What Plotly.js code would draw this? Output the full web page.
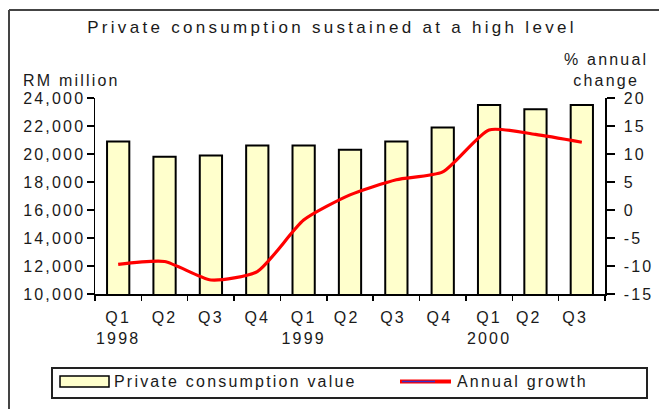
<!DOCTYPE html>
<html>
<head>
<meta charset="utf-8">
<script src="https://cdn.plot.ly/plotly-3.0.1.min.js"></script>
<style>
  html, body { margin: 0; padding: 0; background: #fff; }
  #chart { width: 659px; height: 409px; }
  svg text { letter-spacing: 2.2px; }
  svg .gtitle { letter-spacing: 3.3px; }
</style>
</head>
<body>
<div id="chart"></div>
<script>
// Data
const categories = ["Q1<br>1998", "Q2", "Q3", "Q4", "Q1<br>1999", "Q2 ", "Q3 ", "Q4 ", "Q1<br>2000", "Q2  ", "Q3  "];
const consumptionValue = [20900, 19800, 19900, 20600, 20600, 20300, 20900, 21900, 23500, 23200, 23500];
const annualGrowth = [-9.7, -9.2, -12.5, -11.0, -1.8, 2.7, 5.4, 6.8, 14.3, 13.5, 12.1];
const rightTickVals = [-15, -10, -5, 0, 5, 10, 15, 20];
const rightTickText = ["-15", "-10", "-5", "0", "5", "10", "15", "20"];

const FONT = "Liberation Sans, Arial, sans-serif";
const TXT = "#1a1a1a";

// Plot area in pixels: x 95..605, y 98..294
const L = 95, R = 605, T = 98, B = 294;
const px = v => (v - L) / (R - L);
const py = v => (B - v) / (B - T);

const traces = [
  {
    type: "bar",
    x: categories,
    y: consumptionValue,
    name: "Private consumption value",
    width: 0.48,
    marker: { color: "#FFFFCC", line: { color: "#000", width: 2 } },
    showlegend: false,
    hoverinfo: "skip"
  },
  {
    type: "scatter",
    mode: "lines",
    x: categories,
    y: annualGrowth,
    yaxis: "y2",
    name: "Annual growth",
    line: { color: "#FF0000", width: 3.2, shape: "spline", smoothing: 0.6 },
    showlegend: false,
    hoverinfo: "skip"
  }
];

const layout = {
  width: 659,
  height: 409,
  margin: { l: L, r: 659 - R, t: T, b: 409 - B, pad: 0 },
  paper_bgcolor: "#fff",
  plot_bgcolor: "#fff",
  font: { family: FONT, size: 16, color: TXT },
  showlegend: false,
  title: {
    text: "Private consumption sustained at a high level",
    font: { family: FONT, size: 17, color: TXT },
    xref: "paper", x: px(332), xanchor: "center",
    yref: "container", y: 1 - 27 / 409, yanchor: "middle"
  },
  xaxis: {
    type: "category",
    tickson: "boundaries",
    tickangle: 0,
    ticks: "outside",
    ticklen: 5,
    tickwidth: 1.5,
    tickcolor: "#000",
    ticklabelstandoff: 8,
    showline: true,
    linecolor: "#000",
    linewidth: 1.5,
    showgrid: false,
    tickfont: { family: FONT, size: 16, color: TXT }
  },
  yaxis: {
    range: [10000, 24000],
    dtick: 2000,
    tickformat: ",d",
    ticks: "outside",
    ticklen: 7,
    tickwidth: 1.5,
    tickcolor: "#000",
    ticklabelstandoff: -2,
    showline: true,
    linecolor: "#000",
    linewidth: 1.5,
    showgrid: false,
    zeroline: false,
    tickfont: { family: FONT, size: 16, color: TXT }
  },
  yaxis2: {
    overlaying: "y",
    side: "right",
    range: [-15, 20],
    tickvals: rightTickVals,
    ticktext: rightTickText,
    ticks: "outside",
    ticklen: 8,
    tickwidth: 1.5,
    tickcolor: "#000",
    ticklabelstandoff: 6,
    showline: true,
    linecolor: "#000",
    linewidth: 1.5,
    showgrid: false,
    zeroline: false,
    tickfont: { family: FONT, size: 16, color: TXT }
  },
  shapes: [
    // outer frame (top and left edges)
    { type: "line", xref: "paper", yref: "paper", x0: px(9), x1: px(700), y0: py(10), y1: py(10), line: { color: "#444", width: 2 } },
    { type: "line", xref: "paper", yref: "paper", x0: px(9), x1: px(9), y0: py(10), y1: py(440), line: { color: "#444", width: 2 } },
    // legend box
    { type: "rect", xref: "paper", yref: "paper", x0: px(52), x1: px(647), y0: py(368), y1: py(398), line: { color: "#222", width: 2 }, fillcolor: "#fff" },
    // legend swatch: bar
    { type: "rect", xref: "paper", yref: "paper", x0: px(60), x1: px(109), y0: py(376), y1: py(387), line: { color: "#000", width: 1.5 }, fillcolor: "#FFFFCC" },
    // legend swatch: line
    { type: "line", xref: "paper", yref: "paper", x0: px(400), x1: px(451), y0: py(381.5), y1: py(381.5), line: { color: "#FF0000", width: 4 } },
    { type: "line", xref: "paper", yref: "paper", x0: px(402), x1: px(435), y0: py(381.5), y1: py(381.5), line: { color: "#3333CC", width: 1.5 } }
  ],
  annotations: [
    { text: "RM million", xref: "paper", yref: "paper", x: px(21), y: py(80), xanchor: "left", yanchor: "middle", showarrow: false, font: { family: FONT, size: 16, color: TXT } },
    { text: "% annual<br>change", xref: "paper", yref: "paper", x: px(606), y: py(70), xanchor: "center", yanchor: "middle", align: "center", showarrow: false, font: { family: FONT, size: 16, color: TXT } },
    { text: "Private consumption value", xref: "paper", yref: "paper", x: px(112), y: py(381), xanchor: "left", yanchor: "middle", showarrow: false, font: { family: FONT, size: 16, color: TXT } },
    { text: "Annual growth", xref: "paper", yref: "paper", x: px(455), y: py(381), xanchor: "left", yanchor: "middle", showarrow: false, font: { family: FONT, size: 16, color: TXT } }
  ]
};

Plotly.newPlot("chart", traces, layout, { staticPlot: true, displayModeBar: false });
</script>
</body>
</html>
